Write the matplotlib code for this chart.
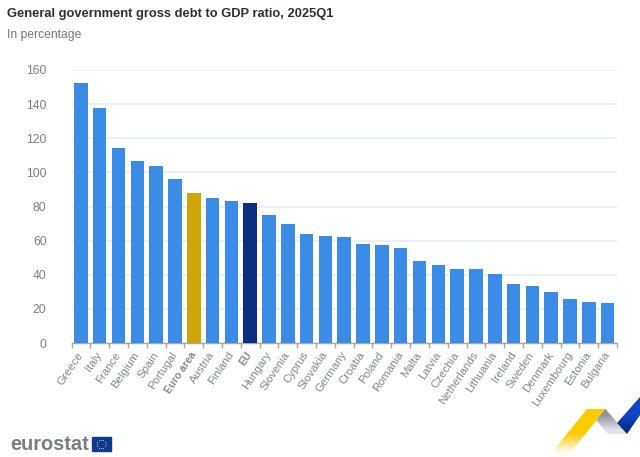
#!/usr/bin/env python3
import numpy as np
import matplotlib
matplotlib.use("Agg")
import matplotlib.pyplot as plt
from matplotlib.patches import Polygon

countries = ["Greece", "Italy", "France", "Belgium", "Spain", "Portugal", "Euro area", "Austria",
             "Finland", "EU", "Hungary", "Slovenia", "Cyprus", "Slovakia", "Germany", "Croatia",
             "Poland", "Romania", "Malta", "Latvia", "Czechia", "Netherlands", "Lithuania",
             "Ireland", "Sweden", "Denmark", "Luxembourg", "Estonia", "Bulgaria"]
debt = [152.5, 137.9, 114.1, 106.8, 103.5, 96.4, 88.0, 85.0, 83.5, 81.8, 75.2, 69.8, 64.0, 62.7,
        62.3, 58.2, 57.2, 55.7, 48.0, 45.5, 43.3, 43.1, 40.5, 34.8, 33.2, 29.7, 26.0, 23.8, 23.6]
y_ticks = [0, 20, 40, 60, 80, 100, 120, 140, 160]

plt.rcParams["font.family"] = ["Liberation Sans", "DejaVu Sans"]

W, H = 640, 457
fig = plt.figure(figsize=(W / 100, H / 100), dpi=100)

# main chart, placed in pixel coordinates
left, right, top, bottom = 71.5, 617, 70, 343
ax = fig.add_axes([left / W, 1 - bottom / H, (right - left) / W, (bottom - top) / H])

colors = []
for c in countries:
    if c == "Euro area":
        colors.append("#cfa406")
    elif c == "EU":
        colors.append("#0b2e7d")
    else:
        colors.append("#3a8ce6")

ax.bar(range(len(countries)), debt, width=0.72, color=colors, zorder=3)
ax.set_xlim(-0.5, len(countries) - 0.5)
ax.set_ylim(0, 160)
ax.set_yticks(y_ticks)
ax.grid(axis="y", color="#e9edf6", lw=1.2, zorder=0)
ax.tick_params(axis="y", length=0, labelsize=8.7, labelcolor="#7d7f85", pad=18)

# ticks sit between the categories
ax.set_xticks(np.arange(len(countries)))
ax.tick_params(axis="x", length=0, labelsize=8.2, labelcolor="#85878d", pad=7)
ax.set_xticks(np.arange(len(countries) + 1) - 0.5, minor=True)
ax.tick_params(axis="x", which="minor", length=3.5, width=1, color="#a6a8ad")
ax.set_xticklabels(countries, rotation=56, ha="right", va="center", rotation_mode="anchor")
for lab in ax.get_xticklabels():
    if lab.get_text() in ("Euro area", "EU"):
        lab.set_fontweight("bold")
        lab.set_fontsize(7.4)
for s in ["top", "left", "right"]:
    ax.spines[s].set_visible(False)
ax.spines["bottom"].set_color("#a6a8ad")
ax.spines["bottom"].set_linewidth(1)

fig.text(7 / W, 1 - 13.5 / H, "General government gross debt to GDP ratio, 2025Q1",
         fontsize=9.3, fontweight="bold", color="#2a2e38", va="center")
fig.text(7 / W, 1 - 34.8 / H, "In percentage", fontsize=8.7, color="#74767c", va="center")

# footer graphics: overlay axes in pixel coordinates
ov = fig.add_axes([0, 0, 1, 1], zorder=5)
ov.set_xlim(0, W)
ov.set_ylim(H, 0)
ov.axis("off")
ov.patch.set_alpha(0)


def gradient_poly(points, stops, extent):
    # vertical gradient, clipped to the polygon
    rgba = np.array([matplotlib.colors.to_rgba(c) for c in stops])[:, None, :]
    im = ov.imshow(rgba, extent=extent, aspect="auto", interpolation="bilinear", zorder=2)
    im.set_clip_path(Polygon(points, closed=True, transform=ov.transData))


gradient_poly([(587, 409), (605.5, 409), (567, 457), (548, 457)],
              ["#ffcc00", "#ffcc00", "#ffcc00", "#ffe27a", "#fffdf5"], (540, 610, 457, 409))
gradient_poly([(605.5, 409), (627, 434), (608, 434), (596, 420)],
              ["#8f8f91", "#b4b5b8", "#dfe3ee"], (590, 630, 434, 409))
gradient_poly([(640, 397), (640, 415), (627, 434), (617, 423)],
              ["#0d47c8", "#0d47c8", "#0a2f86"], (610, 640, 434, 397))
ov.set_xlim(0, W)
ov.set_ylim(H, 0)

ov.text(10.5, 444, "eurostat", fontsize=14.4, fontweight="bold", color="#7b7d83", va="center")
ov.add_patch(plt.Rectangle((91.5, 437), 19.5, 14, color="#0d3a9a", zorder=2))
angles = np.arange(12) * np.pi / 6
ov.scatter(101.2 + 4.3 * np.cos(angles), 444 + 4.3 * np.sin(angles), s=0.7, color="#d8c24a",
           zorder=3, linewidths=0)

fig.savefig("out.png", dpi=100, facecolor="white")
